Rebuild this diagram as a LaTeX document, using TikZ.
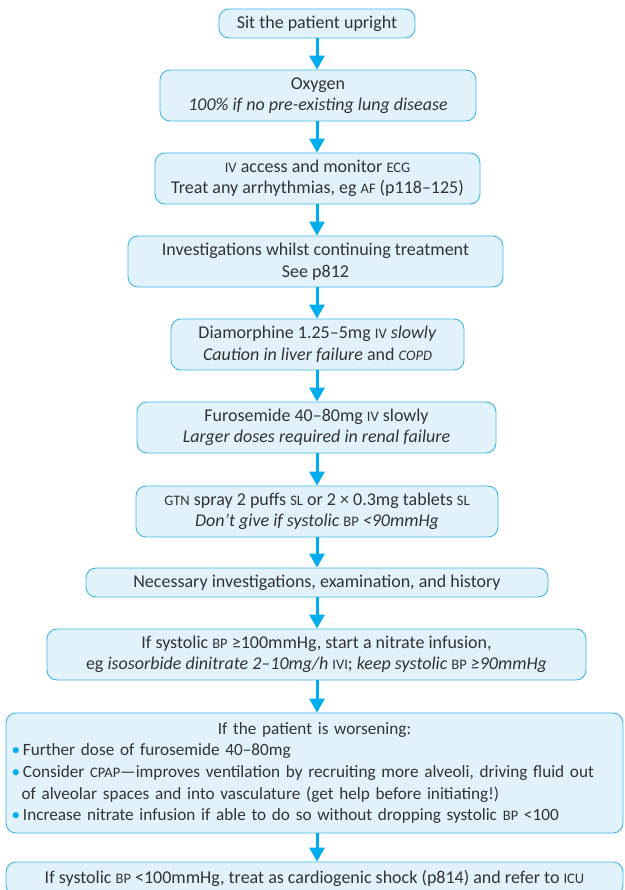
\documentclass[tikz,border=0pt]{standalone}
\usepackage{fontspec}
\setmainfont{Carlito}
\usetikzlibrary{arrows.meta,calc}
\definecolor{arr}{HTML}{00AEEF}
\definecolor{bfill}{HTML}{E1F2FB}
\definecolor{bdraw}{HTML}{3DB5E6}
\definecolor{txt}{HTML}{333333}
\newcommand\ab[1]{{\fontsize{14.5pt}{16pt}\selectfont #1}}
\newcommand\bul{\textcolor{arr}{\textbullet}\,}
\begin{document}
\begin{tikzpicture}[x=1pt,y=-1pt,
  box/.style={draw=bdraw, fill=bfill, line width=0.9pt, rounded corners=10pt, inner sep=0pt, align=center, text=txt, font=\fontsize{18pt}{21.5pt}\selectfont},
  flow/.style={draw=arr, line width=3pt, -{Triangle[width=15pt,length=14pt]}}]
\useasboundingbox (0,0) rectangle (624,890);
\clip (0,0) rectangle (624,890);
\coordinate (ax) at (317,0);
\node[box, minimum width=196pt, minimum height=29pt] (b1) at (317,23.5) {Sit the patient upright};
\node[box, minimum width=316pt, minimum height=51pt] (b2) at (318,95.5) {Oxygen\\ \textit{100\% if no pre-existing lung disease}};
\node[box, minimum width=325pt, minimum height=51pt] (b3) at (317.5,178.5) {\ab{IV} access and monitor \ab{ECG}\\ Treat any arrhythmias, eg \ab{AF} (p118–125)};
\node[box, minimum width=375pt, minimum height=51pt] (b4) at (315.5,261.5) {Investigations whilst continuing treatment\\ See p812};
\node[box, minimum width=293pt, minimum height=51pt] (b5) at (317.5,344.5) {Diamorphine 1.25–5mg \ab{IV} \textit{slowly}\\ \textit{Caution in liver failure} and \ab{\textit{COPD}}};
\node[box, minimum width=359pt, minimum height=51pt] (b6) at (316.5,427.5) {Furosemide 40–80mg \ab{IV} slowly\\ \textit{Larger doses required in renal failure}};
\node[box, minimum width=362pt, minimum height=51pt] (b7) at (317,511.5) {\ab{GTN} spray 2 puffs \ab{SL} or 2 × 0.3mg tablets \ab{SL}\\ \textit{Don’t give if systolic} \ab{BP} \textit{<90mmHg}};
\node[box, minimum width=462pt, minimum height=29pt] (b8) at (317,582.5) {Necessary investigations, examination, and history};
\node[box, minimum width=539pt, minimum height=51pt] (b9) at (316.5,654.5) {If systolic \ab{BP} ≥100mmHg, start a nitrate infusion,\\ eg \textit{isosorbide dinitrate 2–10mg/h} \ab{IVI}; \textit{keep systolic} \ab{BP} \textit{≥90mmHg}};
\node[box, minimum width=617pt, minimum height=120pt, text width=606pt, align=left, font=\fontsize{17.2pt}{21.7pt}\selectfont] (b10) at (314.5,773) {\makebox[606pt][c]{If the patient is worsening:}\\
\mbox{\bul Further dose of furosemide 40–80mg}\\
\mbox{\bul Consider \ab{CPAP}—improves ventilation by recruiting more alveoli, driving fluid out}\\
\mbox{\hspace*{10pt}of alveolar spaces and into vasculature (get help before initiating!)}\\
\mbox{\bul Increase nitrate infusion if able to do so without dropping systolic \ab{BP} <100}};
\node[box, minimum width=617pt, minimum height=33pt] (b11) at (314.5,878.5) {If systolic \ab{BP} <100mmHg, treat as cardiogenic shock (p814) and refer to \ab{ICU}};
\foreach \a/\b in {b1/b2,b2/b3,b3/b4,b4/b5,b5/b6,b6/b7,b7/b8,b8/b9,b9/b10,b10/b11}
  \draw[flow] (\a.south -| ax) -- (\b.north -| ax);
\end{tikzpicture}
\end{document}
